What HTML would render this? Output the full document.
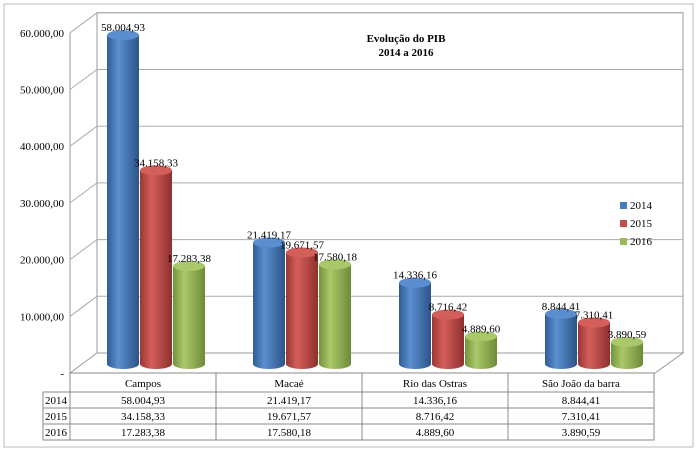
<!DOCTYPE html>
<html><head><meta charset="utf-8"><style>
body{margin:0;background:#fff;}
svg{display:block;font-family:"Liberation Serif",serif;}
</style></head><body>
<svg id="c" width="698" height="452">
<defs>
<linearGradient id="g0" x1="0" x2="1"><stop offset="0" stop-color="#2f5d95"/><stop offset="0.35" stop-color="#5b8fd0"/><stop offset="1" stop-color="#2c5488"/></linearGradient>
<linearGradient id="g1" x1="0" x2="1"><stop offset="0" stop-color="#9a3634"/><stop offset="0.35" stop-color="#d45f5b"/><stop offset="1" stop-color="#8e302e"/></linearGradient>
<linearGradient id="g2" x1="0" x2="1"><stop offset="0" stop-color="#76923d"/><stop offset="0.35" stop-color="#a9c96a"/><stop offset="1" stop-color="#6e8a37"/></linearGradient>
</defs>
<rect x="4" y="4" width="689" height="443" fill="#fff" stroke="#bbb"/>
<g id="grid"></g>
<g id="bars"></g>
<text x="406" y="42" font-size="11" font-weight="bold" text-anchor="middle">Evolução do PIB</text>
<text x="406" y="56" font-size="11" font-weight="bold" text-anchor="middle">2014 a 2016</text>
<g id="legend"></g>
<g id="table"></g>
</svg>
<script>
const categories=["Campos","Macaé","Rio das Ostras","São João da barra"];
const years=["2014","2015","2016"];
const s2014=[58004.93,21419.17,14336.16,8844.41];
const s2015=[34158.33,19671.57,8716.42,7310.41];
const s2016=[17283.38,17580.18,4889.60,3890.59];
const ticks=[0,10000,20000,30000,40000,50000,60000];
const series=[s2014,s2015,s2016];
const NS="http://www.w3.org/2000/svg";
function mk(t,a,p){const e=document.createElementNS(NS,t);for(const k in a)e.setAttribute(k,a[k]);p.appendChild(e);return e;}
function fmt(v){let [i,d]=v.toFixed(2).split('.');i=i.replace(/\B(?=(\d{3})+(?!\d))/g,'.');return i+','+d;}
const S=0.00567; const fy0=373, by0=353, fx0=70, bx0=97, bx1=683, fx1=655;
const yF=v=>fy0-v*S, yB=v=>by0-v*S, yBase=v=>364-v*S;
const colW=146, colX0=70;
const xC=(c,s)=>colX0+colW*c+53+s*33;
const grid=document.getElementById('grid');
// back wall & floor
let e=mk('polygon',{points:`${bx0},${yB(60000)} ${bx1},${yB(60000)} ${bx1},${by0} ${bx0},${by0}`,fill:'#fff',stroke:'#999'},grid);

e=mk('polygon',{points:`${fx0},${fy0} ${bx0},${by0} ${bx1},${by0} ${fx1},${fy0}`,fill:'#fff',stroke:'#999'},grid);

e=mk('line',{x1:fx0,y1:fy0,x2:fx0,y2:yF(60000),stroke:'#999'},grid);

ticks.forEach(t=>{
 if(t>0){const g=mk('polyline',{points:`${fx0},${yF(t)} ${bx0},${yB(t)} ${bx1},${yB(t)}`,fill:'none',stroke:'#aaa'},grid);
 }
 const l=mk('text',{x:64,y:yF(t)+4,'font-size':11,'text-anchor':'end'},grid);
 l.textContent=t?fmt(t):'-';
 
});
const bars=document.getElementById('bars');
const rx=16, ry=5;
series.forEach((arr,s)=>{arr.forEach((v,c)=>{
 const cx=xC(c,s), base=364, top=yBase(v);
 const g=mk('g',{},bars);
 
 mk('path',{d:`M${cx-rx},${top} L${cx-rx},${base} A${rx},${ry} 0 0 0 ${cx+rx},${base} L${cx+rx},${top} Z`,fill:`url(#g${s})`},g);
 mk('ellipse',{cx:cx,cy:top,rx:rx,ry:ry,fill:['#5a8ed0','#d35e5a','#a8c86a'][s]},g);
 const t=mk('text',{x:cx,y:top-4,'font-size':11,'text-anchor':'middle'},bars);
 t.textContent=fmt(v);
 
});});
const lg=document.getElementById('legend');
years.forEach((y,i)=>{
 const g=mk('g',{},lg);
 
 mk('rect',{x:620,y:202+i*18,width:7,height:7,fill:['#4a7ebb','#c0504d','#9bbb59'][i]},g);
 const t=mk('text',{x:630,y:209+i*18,'font-size':11},g);t.textContent=y;
});
const tb=document.getElementById('table');
const tl=mk('g',{},tb);

const rows=[373,392,408,424,440];
mk('rect',{x:43,y:392,width:colX0+colW*4-43,height:48,fill:'none',stroke:'#888'},tl);
mk('line',{x1:colX0,y1:373,x2:colX0+colW*4,y2:373,stroke:'#888'},tl);
rows.slice(1,4).forEach(y=>mk('line',{x1:43,y1:y,x2:colX0+colW*4,y2:y,stroke:'#888'},tl));
for(let c=0;c<=4;c++)mk('line',{x1:colX0+colW*c,y1:373,x2:colX0+colW*c,y2:440,stroke:'#888'},tl);
categories.forEach((n,c)=>{const t=mk('text',{x:colX0+colW*c+colW/2,y:387,'font-size':11,'text-anchor':'middle'},tl);t.textContent=n;
 });
series.forEach((arr,s)=>{
 const yl=mk('text',{x:45,y:rows[s+1]+12,'font-size':11},tl);yl.textContent=years[s];
 arr.forEach((v,c)=>{const t=mk('text',{x:colX0+colW*c+colW/2,y:rows[s+1]+12,'font-size':11,'text-anchor':'middle'},tl);t.textContent=fmt(v);});
});
</script>
</body></html>
